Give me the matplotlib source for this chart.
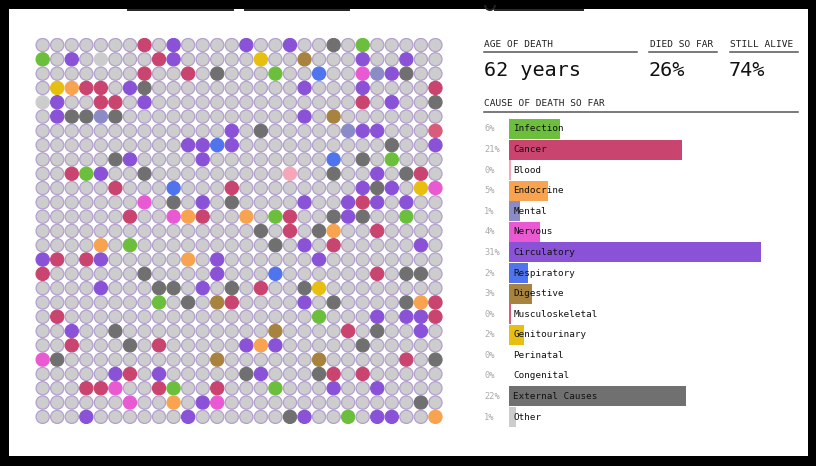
import numpy as np
import matplotlib.pyplot as plt
from matplotlib.patches import Rectangle, Arc

# headline numbers
age_of_death = 62
died_pct = 26
alive_pct = 74

# causes of death (bar chart)
causes = ['Infection', 'Cancer', 'Blood', 'Endocrine', 'Mental', 'Nervous',
          'Circulatory', 'Respiratory', 'Digestive', 'Musculoskeletal',
          'Genitourinary', 'Perinatal', 'Congenital', 'External Causes', 'Other']
shares = [6.2, 21.2, 0.3, 4.8, 1.3, 3.8, 30.9, 2.3, 2.8, 0.3, 1.8, 0.0, 0.0, 21.7, 0.8]
cause_codes = ['I', 'C', 'B', 'E', 'M', 'N', 'R', 'P', 'D', 'K', 'G', 'p', 'c', 'X', 'O']
cause_colors = ['#6cbf3c', '#c9446e', '#f5a6b8', '#f7a34f', '#8b8bc6', '#e95ad2',
                '#8a52d6', '#4f74ee', '#a8823f', '#d95c7a', '#e6bf10', '#cccccc',
                '#cccccc', '#707070', '#cccccc']

# people grid: 28 columns x 27 rows, deaths listed per row as "<col><code>"
n_cols, n_rows = 28, 27
deaths = [
    "7C 9R 14R 17R 20X 22I",
    "0I 2R 4O 8C 9R 15G 18D 22R 25R",
    "7C 10C 12X 16I 19P 22N 23M 24R 25X",
    "1G 2E 3C 4C 6R 7X 18R 22R 27C",
    "0O 1R 4C 5C 7R 22C 24R 27X",
    "1R 2X 3X 4M 5X 18R 20D",
    "13R 15X 21M 22R 23R 27K",
    "10R 11R 12P 13R 24X 27R",
    "5X 6R 11R 20P 22X 24I",
    "2C 3I 4R 7X 17B 20X 23R 25X 26C",
    "5C 9P 13C 22R 23X 24R 26G 27N",
    "7N 9X 11R 13X 18R 21R 22C 23R 25R",
    "6C 9N 10E 11C 14E 16I 17C 20X 21R 22X 25I",
    "15X 17C 19X 20E 23C",
    "4E 6I 16X 18R 20C 26R",
    "0R 1C 3C 4R 10E 12R 19R",
    "0C 7X 12R 16P 23C 25X 26X",
    "4R 8X 9X 11R 13X 15C 18X 19G",
    "8I 10X 12D 13C 18R 20X 25X 26E 27C",
    "1C 19I 23R 25R 26R 27C",
    "2R 5X 16D 21C 23X 26R",
    "2C 6X 8C 14R 15E 16R 22X",
    "0N 1X 12D 19D 25C 27X",
    "5R 6C 8R 14X 15R 19X 20C 22C",
    "3C 4C 5N 8C 9I 12C 16I 20R 23R",
    "6N 9E 11R 12N 26X",
    "3R 10R 17X 18R 21I 23R 24R 27E",
]

alive_fill = '#cdcdcd'
alive_ring = '#b39fd0'
mono = 'DejaVu Sans Mono'

W, H = 816, 466
fig = plt.figure(figsize=(W / 100, H / 100), dpi=100, facecolor='black')

# page / frame layer in pixel coordinates
ax0 = fig.add_axes([0, 0, 1, 1])
ax0.set_xlim(0, W)
ax0.set_ylim(H, 0)
ax0.axis('off')
ax0.add_patch(Rectangle((9, 9), 799, 447, facecolor='white', edgecolor='none'))
for x0, x1 in [(128, 233), (245, 349), (495, 583)]:
    ax0.plot([x0, x1], [10, 10], color='#222222', lw=1.4)
ax0.add_patch(Arc((490, 5), 10, 10, theta1=0, theta2=180, color='#222222', lw=1.4))

# header block
ax0.text(484.5, 44.5, 'AGE OF DEATH', fontsize=6.8, family=mono, color='#222222', va='center')
ax0.text(650, 44.5, 'DIED SO FAR', fontsize=6.8, family=mono, color='#222222', va='center')
ax0.text(730.5, 44.5, 'STILL ALIVE', fontsize=6.8, family=mono, color='#222222', va='center')
for x0, x1 in [(484, 637), (649, 717), (730, 798)]:
    ax0.plot([x0, x1], [51.5, 51.5], color='#555555', lw=1.1)
ax0.text(484, 71, f'{age_of_death} years', fontsize=14.5, family=mono, color='#111111', va='center')
ax0.text(649, 71, f'{died_pct}%', fontsize=14.5, family=mono, color='#111111', va='center')
ax0.text(729, 71, f'{alive_pct}%', fontsize=14.5, family=mono, color='#111111', va='center')
ax0.text(484.5, 104, 'CAUSE OF DEATH SO FAR', fontsize=6.8, family=mono, color='#222222', va='center')
ax0.plot([484, 798], [111.5, 111.5], color='#555555', lw=1.1)

# people grid
code_color = dict(zip(cause_codes, cause_colors))
dead = {}
for r, row in enumerate(deaths):
    for item in row.split():
        dead[(r, int(item[:-1]))] = code_color[item[-1]]

xs, ys, fc, ec = [], [], [], []
for r in range(n_rows):
    for c in range(n_cols):
        xs.append(c)
        ys.append(r)
        if (r, c) in dead:
            fc.append(dead[(r, c)])
            ec.append(dead[(r, c)])
        else:
            fc.append(alive_fill)
            ec.append(alive_ring)

gl, gr, gt, gb = 35.4, 442.7, 37.9, 424.0
axg = fig.add_axes([gl / W, 1 - gb / H, (gr - gl) / W, (gb - gt) / H])
axg.set_facecolor('none')
axg.scatter(xs, ys, s=90, c=fc, edgecolors=ec, linewidths=0.9)
axg.set_xlim(-0.5, n_cols - 0.5)
axg.set_ylim(n_rows - 0.5, -0.5)
axg.axis('off')

# cause bars
bl, br, bt, bb = 509, 809, 118.7, 427.3
axb = fig.add_axes([bl / W, 1 - bb / H, (br - bl) / W, (bb - bt) / H])
axb.set_facecolor('none')
ypos = np.arange(len(causes))
axb.barh(ypos, shares, height=0.97, color=cause_colors, edgecolor='none')
axb.set_xlim(0, (br - bl) / 8.17)
axb.set_ylim(len(causes) - 0.5, -0.5)
axb.axis('off')
for i, (name, v) in enumerate(zip(causes, shares)):
    axb.annotate(name, xy=(0, i), xytext=(3.2, 0), textcoords='offset points',
                 fontsize=6.7, family=mono, color='#111111', va='center', ha='left')
    axb.annotate(f'{int(round(v))}%', xy=(0, i), xytext=(-17.8, 0), textcoords='offset points',
                 fontsize=6.2, family=mono, color='#aaaaaa', va='center', ha='left')

fig.savefig('out.png', dpi=100, facecolor='black')
